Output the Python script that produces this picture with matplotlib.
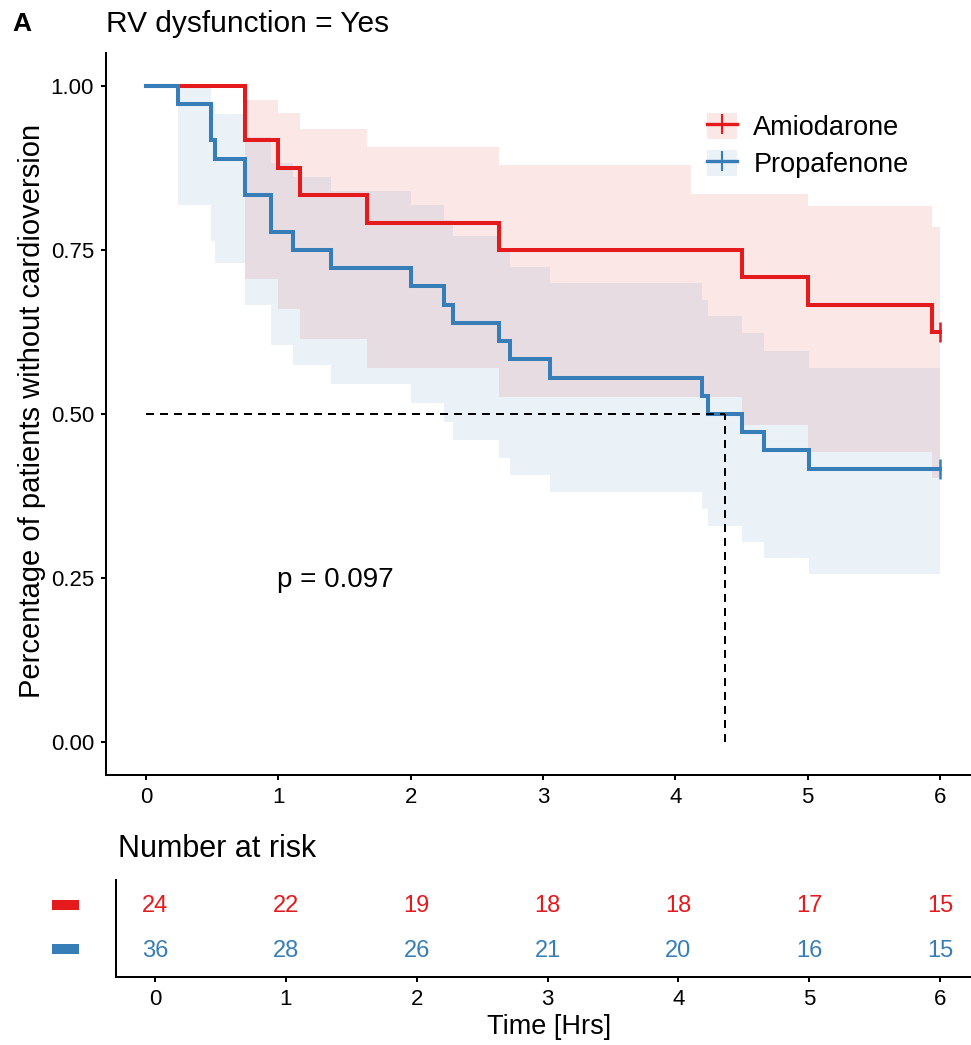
import matplotlib
matplotlib.use('Agg')
import matplotlib.pyplot as plt
from matplotlib.patches import Patch, Rectangle
from matplotlib.lines import Line2D
from matplotlib.colors import to_rgba

plt.rcParams['font.family'] = ['Liberation Sans', 'DejaVu Sans']

# ---------------- data ----------------
groups = ["Amiodarone", "Propafenone"]
colors = ["#E41A1C", "#377EB8"]

amio_time = [0.75, 1.00, 1.16, 1.67, 2.67, 4.50, 5.00, 5.94]
amio_surv = [0.9167, 0.8750, 0.8333, 0.7917, 0.7500, 0.7083, 0.6667, 0.6250]
amio_upper = [0.9785, 0.9579, 0.9340, 0.9075, 0.8791, 0.8489, 0.8173, 0.7842]
amio_lower = [0.7060, 0.6607, 0.6148, 0.5698, 0.5262, 0.4838, 0.4428, 0.4030]

propa_time = [0.24, 0.49, 0.52, 0.75, 0.945, 1.11, 1.40, 2.00, 2.25, 2.32,
              2.67, 2.75, 3.05, 4.20, 4.25, 4.50, 4.67, 5.01]
propa_surv = [0.9722, 0.9167, 0.8889, 0.8333, 0.7778, 0.7500, 0.7222, 0.6944, 0.6667, 0.6389,
              0.6111, 0.5833, 0.5556, 0.5278, 0.5000, 0.4722, 0.4444, 0.4167]
propa_upper = [0.9960, 0.9723, 0.9568, 0.9214, 0.8821, 0.8613, 0.8398, 0.8177, 0.7950, 0.7719,
               0.7482, 0.7240, 0.6994, 0.6743, 0.6488, 0.6228, 0.5964, 0.5695]
propa_lower = [0.8187, 0.7634, 0.7305, 0.6661, 0.6044, 0.5746, 0.5452, 0.5166, 0.4883, 0.4607,
               0.4335, 0.4067, 0.3805, 0.3547, 0.3294, 0.3046, 0.2802, 0.2563]

end_time = 6.0
median_surv = 0.5
median_time = 4.375
p_text = "p = 0.097"

risk_times = [0, 1, 2, 3, 4, 5, 6]
amio_risk = [24, 22, 19, 18, 18, 17, 15]
propa_risk = [36, 28, 26, 21, 20, 16, 15]

x_ticks = [0, 1, 2, 3, 4, 5, 6]
y_ticks = [0.00, 0.25, 0.50, 0.75, 1.00]
y_ticklabels = ["0.00", "0.25", "0.50", "0.75", "1.00"]

# ---------------- layout ----------------
W, H = 971, 1045
fig = plt.figure(figsize=(W / 100, H / 100), dpi=100)


def fx(x):
    return x / W


def fy(y):
    return 1 - y / H


x0px, x6px = 146, 940
ppu = (x6px - x0px) / 6
ax_left, ax_right = 106, 971
ax = fig.add_axes([fx(ax_left), fy(775), (ax_right - ax_left) / W, (775 - 53) / H])
ax.set_xlim((ax_left - x0px) / ppu, (ax_right - x0px) / ppu)
ax.set_ylim(-0.05, 1.05)

LW_SP = 1.45
for s in ["top", "right"]:
    ax.spines[s].set_visible(False)
for s in ["left", "bottom"]:
    ax.spines[s].set_linewidth(LW_SP)
ax.tick_params(axis="both", length=3.6, width=LW_SP, labelsize=16, pad=5, colors="black")
ax.set_xticks(x_ticks)
ax.set_xticklabels([str(t) for t in x_ticks])
ax.set_yticks(y_ticks)
ax.set_yticklabels(y_ticklabels)

series = [
    (amio_time, amio_surv, amio_upper, amio_lower),
    (propa_time, propa_surv, propa_upper, propa_lower),
]
for (tt, ss, up, lo), col in zip(series, colors):
    bt = list(tt) + [end_time]
    ax.fill_between(bt, list(lo) + [lo[-1]], list(up) + [up[-1]], step="post",
                    color=col, alpha=0.1, lw=0, zorder=1)
for (tt, ss, up, lo), col in zip(series, colors):
    st = [0.0] + list(tt) + [end_time]
    sv = [1.0] + list(ss) + [ss[-1]]
    ax.step(st, sv, where="post", color=col, lw=2.9, zorder=3, solid_joinstyle="miter")
    ax.plot([end_time], [ss[-1]], marker="|", ms=14, mew=1.8, color=col, zorder=3, clip_on=False)

ax.plot([0, median_time], [median_surv, median_surv], color="black", lw=1.44,
        dashes=(4, 3), zorder=4)
ax.plot([median_time, median_time], [0, median_surv], color="black", lw=1.44,
        dashes=(4, 3), zorder=4)

ax.text(0.99, 0.247, p_text, fontsize=20, ha="left", va="center")

handles = []
for col in colors:
    handles.append((Patch(facecolor=to_rgba(col, 0.1), edgecolor="none"),
                    Line2D([], [], color=col, lw=2.4, marker="|", ms=14, mew=1.5)))
leg = ax.legend(handles, groups, loc="upper left", bbox_to_anchor=(fx(691), fy(97)),
                bbox_transform=fig.transFigure, frameon=True, facecolor="white",
                edgecolor="none", framealpha=1, fontsize=19.5, handlelength=1.1,
                handleheight=1.1, handletextpad=0.6, labelspacing=0.31, borderpad=0.6,
                borderaxespad=0, numpoints=1, fancybox=False)
leg.set_zorder(6)

# titles
fig.text(fx(12), fy(31), "A", fontsize=19, fontweight="bold", va="baseline", ha="left")
fig.text(fx(106), fy(32), "RV dysfunction = Yes", fontsize=21.5, va="baseline", ha="left")
fig.text(fx(32), fy(411), "Percentage of patients without cardioversion", rotation=90,
         fontsize=21, ha="center", va="center")

# ---------------- risk table ----------------
r0px, r6px = 155, 940
rppu = (r6px - r0px) / 6
r_left = r0px - 0.3 * rppu
ax2 = fig.add_axes([fx(r_left), fy(977), (971 - r_left) / W, (977 - 880) / H])
ax2.set_xlim(-0.3, (971 - r0px) / rppu)
ax2.set_ylim(0.4, 2.6)
for s in ["top", "right"]:
    ax2.spines[s].set_visible(False)
for s in ["left", "bottom"]:
    ax2.spines[s].set_linewidth(LW_SP)
ax2.set_yticks([])
ax2.set_xticks(x_ticks)
ax2.set_xticklabels([str(t) for t in x_ticks])
ax2.tick_params(axis="x", length=3.6, width=LW_SP, labelsize=16, pad=5)

for t, n in zip(risk_times, amio_risk):
    ax2.text(t, 2, str(n), color=colors[0], ha="center", va="center", fontsize=17)
for t, n in zip(risk_times, propa_risk):
    ax2.text(t, 1, str(n), color=colors[1], ha="center", va="center", fontsize=17)

fig.patches.append(Rectangle((fx(52), fy(910)), 27 / W, 10 / H, transform=fig.transFigure,
                             facecolor=colors[0], edgecolor="none"))
fig.patches.append(Rectangle((fx(52), fy(954)), 27 / W, 10 / H, transform=fig.transFigure,
                             facecolor=colors[1], edgecolor="none"))

fig.text(fx(118), fy(849), "Number at risk", fontsize=22, va="center", ha="left")
fig.text(fx(549), fy(1027), "Time [Hrs]", fontsize=19.5, ha="center", va="center")

fig.savefig("out.png", dpi=100)
